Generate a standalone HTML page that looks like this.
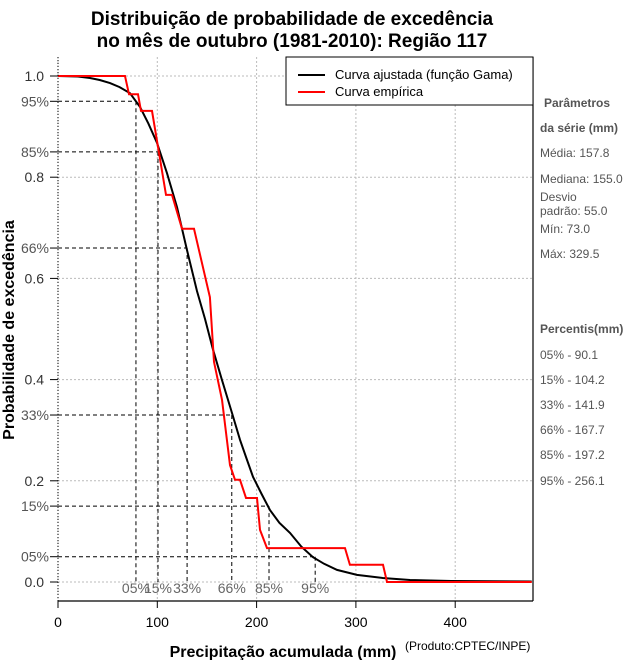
<!DOCTYPE html>
<html><head><meta charset="utf-8"><style>
html,body{margin:0;padding:0;background:#fff;}
svg{display:block;font-family:"Liberation Sans",sans-serif;}
</style></head><body>
<svg id="chart" width="640" height="660" viewBox="0 0 640 660">
<text x="292" y="25" font-size="19" font-weight="bold" text-anchor="middle">Distribuição de probabilidade de excedência</text>
<text x="292" y="47" font-size="19" font-weight="bold" text-anchor="middle">no mês de outubro (1981-2010): Região 117</text>
<g id="grid"></g>
<g id="pct"></g>
<g id="series"></g>
<line x1="58" y1="57" x2="58" y2="601" stroke="#000" stroke-dasharray="1,2"/>
<line x1="58" y1="601" x2="533" y2="601" stroke="#000" stroke-width="1.2"/>
<line x1="533" y1="57" x2="533" y2="601" stroke="#000" stroke-width="1.2"/>
<g id="axes"></g>
<g>
<rect x="286" y="57" width="247" height="48" fill="#fff" stroke="#000"/>
<line x1="298" y1="75" x2="325" y2="75" stroke="#000" stroke-width="2"/>
<text x="335" y="79" font-size="13">Curva ajustada (função Gama)</text>
<line x1="298" y1="92" x2="325" y2="92" stroke="#f00" stroke-width="2"/>
<text x="335" y="96" font-size="13">Curva empírica</text>
</g>
<g fill="#555" font-size="12">
<text x="544" y="107" font-weight="bold">Parâmetros</text>
<text x="540" y="132" font-weight="bold">da série (mm)</text>
<text x="540" y="157">Média: 157.8</text>
<text x="540" y="183">Mediana: 155.0</text>
<text x="540" y="201">Desvio</text>
<text x="540" y="215">padrão: 55.0</text>
<text x="540" y="233">Mín: 73.0</text>
<text x="540" y="258">Máx: 329.5</text>
<text x="540" y="333" font-weight="bold">Percentis(mm)</text>
<text x="540" y="359">05% - 90.1</text>
<text x="540" y="384">15% - 104.2</text>
<text x="540" y="409">33% - 141.9</text>
<text x="540" y="434">66% - 167.7</text>
<text x="540" y="459">85% - 197.2</text>
<text x="540" y="485">95% - 256.1</text>
</g>
<text transform="translate(14,330) rotate(-90)" font-size="16" font-weight="bold" text-anchor="middle">Probabilidade de excedência</text>
<text x="283" y="657" font-size="16" font-weight="bold" text-anchor="middle">Precipitação acumulada (mm)</text>
<text x="405" y="650" font-size="12">(Produto:CPTEC/INPE)</text>
</svg>
<script>
const xTicks = [0, 100, 200, 300, 400];
const yTicks = [0, 0.2, 0.4, 0.6, 0.8, 1.0];
const yTickLabels = ["0.0", "0.2", "0.4", "0.6", "0.8", "1.0"];
const pctLabels = ["05%", "15%", "33%", "66%", "85%", "95%"];
const pctProbs = [0.95, 0.85, 0.66, 0.33, 0.15, 0.05];
const pctValues = [78.5, 100.7, 130, 175, 212.5, 259];
const empX = [0, 67.5, 71.5, 80.6, 83.6, 94.7, 108.8, 114.8, 124.9, 137, 153, 157.1, 165.2, 173.2, 178.2, 183.3, 189.3, 200.4, 203.4, 210.5, 289, 294, 327.3, 331.3, 477];
const empP = [1.0, 1.0, 0.964, 0.964, 0.931, 0.931, 0.765, 0.765, 0.698, 0.698, 0.563, 0.435, 0.36, 0.231, 0.202, 0.202, 0.166, 0.166, 0.103, 0.067, 0.067, 0.034, 0.034, 0, 0];
const gamX = [0, 20, 32.2, 42, 52.4, 62, 72.5, 82.6, 91, 99.7, 109.8, 119.8, 129.9, 140, 148, 156, 165.2, 175.2, 183.3, 190, 196.4, 205, 213.5, 223, 233.6, 245, 256.8, 268, 281, 301, 327, 354.5, 396, 477];
const gamP = [1.0, 0.999, 0.996, 0.992, 0.986, 0.978, 0.966, 0.939, 0.906, 0.868, 0.808, 0.741, 0.656, 0.575, 0.52, 0.46, 0.399, 0.334, 0.281, 0.243, 0.208, 0.174, 0.142, 0.117, 0.097, 0.07, 0.049, 0.036, 0.024, 0.014, 0.008, 0.004, 0.002, 0.001];

const NS = "http://www.w3.org/2000/svg";
const X = v => 58 + v * 0.993;
const Y = p => 582 - p * 506;
function mk(tag, attrs, parent, txt) {
  const e = document.createElementNS(NS, tag);
  for (const k in attrs) e.setAttribute(k, attrs[k]);
  if (txt !== undefined) e.textContent = txt;
  parent.appendChild(e);
  return e;
}
const grid = document.getElementById('grid');
const axes = document.getElementById('axes');
const pct = document.getElementById('pct');
const series = document.getElementById('series');

xTicks.forEach(v => {
  const g = mk('line', {x1: X(v), x2: X(v), y1: 57, y2: 601, stroke: '#bbb', 'stroke-dasharray': '2,2'}, grid);
  
  
  const t = mk('line', {x1: X(v), x2: X(v), y1: 601, y2: 608, stroke: '#000'}, axes);
  
  
  const l = mk('text', {x: X(v), y: 627, 'font-size': 14, 'text-anchor': 'middle'}, axes, String(v));
  
  
});
yTicks.forEach((p, i) => {
  const g = mk('line', {x1: 58, x2: 533, y1: Y(p), y2: Y(p), stroke: '#bbb', 'stroke-dasharray': '2,2'}, grid);
  
  
  const t = mk('line', {x1: 50, x2: 58, y1: Y(p), y2: Y(p), stroke: '#000'}, axes);
  
  
  const l = mk('text', {x: 44, y: Y(p) + 5, 'font-size': 14, 'text-anchor': 'end', fill: '#333'}, axes, yTickLabels[i]);
  
  
});
pctProbs.forEach((p, i) => {
  const h = mk('line', {x1: 58, x2: X(pctValues[i]), y1: Y(p), y2: Y(p), stroke: '#000', 'stroke-dasharray': '4,3'}, pct);
  
  
  const v = mk('line', {x1: X(pctValues[i]), x2: X(pctValues[i]), y1: Y(p), y2: 582, stroke: '#000', 'stroke-dasharray': '4,3'}, pct);
  
  
  const t = mk('line', {x1: 50, x2: 58, y1: Y(p), y2: Y(p), stroke: '#000'}, axes);
  
  
  const ly = mk('text', {x: 49, y: Y(p) + 5, 'font-size': 14, 'text-anchor': 'end', fill: '#555'}, axes, pctLabels[5 - i]);
  
  
  const lx = mk('text', {x: X(pctValues[i]), y: 593, 'font-size': 14, 'text-anchor': 'middle', fill: '#666'}, axes, pctLabels[i]);
  
  
});
const gp = gamX.map((v, i) => X(v).toFixed(1) + ',' + Y(gamP[i]).toFixed(1)).join(' ');
const gl = mk('polyline', {points: gp, fill: 'none', stroke: '#000', 'stroke-width': 2}, series);


const ep = empX.map((v, i) => X(v).toFixed(1) + ',' + Y(empP[i]).toFixed(1)).join(' ');
const el = mk('polyline', {points: ep, fill: 'none', stroke: '#f00', 'stroke-width': 2}, series);


</script>
</body></html>
